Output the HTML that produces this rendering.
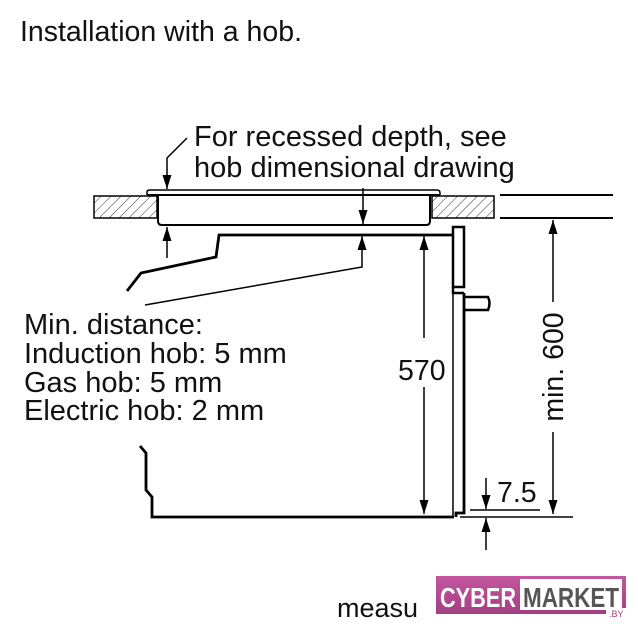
<!DOCTYPE html>
<html><head><meta charset="utf-8"><style>
html,body{margin:0;padding:0;background:#fff;}
svg{display:block}
text{font-family:"Liberation Sans",Arial,sans-serif;fill:#111}
</style></head><body>
<svg width="638" height="640" viewBox="0 0 638 640" xmlns="http://www.w3.org/2000/svg">
<defs>
<pattern id="h" width="7" height="7" patternUnits="userSpaceOnUse" patternTransform="rotate(45)">
<line x1="0" y1="0" x2="0" y2="7" stroke="#333" stroke-width="1"/>
</pattern>
<marker id="a" viewBox="0 0 14 10" refX="14" refY="5" markerWidth="14" markerHeight="10" orient="auto-start-reverse" markerUnits="userSpaceOnUse">
<path d="M0,0.5 L14,5 L0,9.5 z" fill="#000"/>
</marker>
<linearGradient id="pg" x1="0" y1="0" x2="0" y2="1"><stop offset="0" stop-color="#c4579f"/><stop offset="1" stop-color="#a33e84"/></linearGradient>
</defs>
<text x="20" y="41" font-size="28.5">Installation with a hob.</text>
<text x="194" y="146" font-size="29">For recessed depth, see</text>
<text x="194" y="177" font-size="29">hob dimensional drawing</text>
<g font-size="29">
<text x="24" y="334">Min. distance:</text>
<text x="24" y="363">Induction hob: 5 mm</text>
<text x="24" y="392">Gas hob: 5 mm</text>
<text x="24" y="420">Electric hob: 2 mm</text>
</g>
<rect x="94" y="196" width="63" height="22" fill="url(#h)" stroke="#000" stroke-width="1.5"/>
<rect x="432" y="196" width="62" height="22" fill="url(#h)" stroke="#000" stroke-width="1.5"/>
<line x1="500" y1="195" x2="613" y2="195" stroke="#000" stroke-width="2"/>
<line x1="500" y1="218" x2="613" y2="218" stroke="#000" stroke-width="2"/>
<path d="M147,195 L147,192 Q147,190 150,190 L437,190 Q440,190 440,193 L440,195" fill="none" stroke="#000" stroke-width="1.5"/>
<line x1="147" y1="195" x2="440" y2="195" stroke="#000" stroke-width="2"/>
<path d="M158,195 L158,221 Q158,225 162,225 L426,225 Q430,225 430,221 L430,195" fill="none" stroke="#000" stroke-width="2"/>
<polyline points="187,138 167,158 167,189" fill="none" stroke="#000" stroke-width="1.5" marker-end="url(#a)"/>
<line x1="167" y1="258" x2="167" y2="227" stroke="#000" stroke-width="1.5" marker-end="url(#a)"/>
<line x1="363" y1="188" x2="363" y2="224" stroke="#000" stroke-width="1.5" marker-end="url(#a)"/>
<polyline points="145,305 362,267 362,236" fill="none" stroke="#000" stroke-width="1.5" marker-end="url(#a)"/>
<polyline points="127,291 141,273 216,257 219,235 452,235" fill="none" stroke="#000" stroke-width="2.8"/>
<polyline points="140,446 146,453 146,490 152,497 152,517 454,517" fill="none" stroke="#000" stroke-width="2.8"/>
<path d="M453,227 L464,227 L464,287 L453,287 Z" fill="none" stroke="#000" stroke-width="2.5"/>
<path d="M453,287 L453,293 L464,293" fill="none" stroke="#000" stroke-width="2.5"/>
<line x1="453" y1="293" x2="453" y2="517" stroke="#000" stroke-width="1.5"/>
<polyline points="464,293 464,513 456,513 456,517" fill="none" stroke="#000" stroke-width="2.8"/>
<path d="M464,297 L488,297 Q491,303 488,310 L464,310" fill="none" stroke="#000" stroke-width="2.5"/>
<line x1="424" y1="338" x2="424" y2="236" stroke="#000" stroke-width="1.5" marker-end="url(#a)"/>
<line x1="424" y1="387" x2="424" y2="514" stroke="#000" stroke-width="1.5" marker-end="url(#a)"/>
<text x="398" y="380" font-size="28.5">570</text>
<line x1="553" y1="302" x2="553" y2="220" stroke="#000" stroke-width="1.5" marker-end="url(#a)"/>
<line x1="553" y1="432" x2="553" y2="514" stroke="#000" stroke-width="1.5" marker-end="url(#a)"/>
<text transform="translate(563,367) rotate(-90)" text-anchor="middle" font-size="28.5">min. 600</text>
<line x1="470" y1="510" x2="540" y2="510" stroke="#000" stroke-width="1.5"/>
<line x1="460" y1="517" x2="573" y2="517" stroke="#000" stroke-width="1.5"/>
<line x1="486" y1="478" x2="486" y2="509" stroke="#000" stroke-width="1.5" marker-end="url(#a)"/>
<line x1="486" y1="550" x2="486" y2="518" stroke="#000" stroke-width="1.5" marker-end="url(#a)"/>
<text x="497" y="502" font-size="28.5">7.5</text>
<text x="337" y="617" font-size="27">measu</text>
<rect x="436" y="576" width="190" height="38" fill="url(#pg)"/>
<rect x="520" y="579" width="102" height="31" fill="#fff"/>
<text x="440" y="607" font-size="28" font-weight="bold" textLength="76" lengthAdjust="spacingAndGlyphs" style="fill:#fff">CYBER</text>
<text x="523" y="607" font-size="28" font-weight="bold" textLength="96" lengthAdjust="spacingAndGlyphs" style="fill:#555">MARKET</text>
<rect x="606" y="608" width="22" height="10" fill="#fff"/>
<text x="609" y="617" font-size="9" style="fill:#a33e84">.BY</text>
</svg>
</body></html>
